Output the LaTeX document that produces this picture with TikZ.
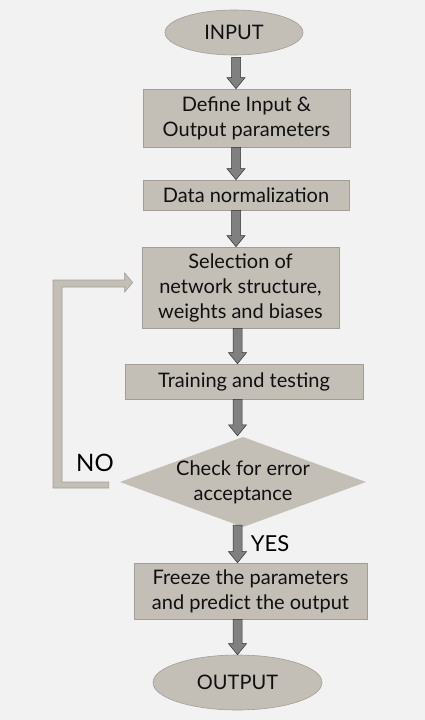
\documentclass[tikz,border=0pt]{standalone}
\usepackage{fontspec}
\setmainfont{Lato}
\usetikzlibrary{shapes.geometric,calc}
\definecolor{bg}{HTML}{F2F2F2}
\definecolor{boxgray}{HTML}{C3BEB6}
\definecolor{boxedge}{HTML}{A29D96}
\definecolor{arrowgray}{HTML}{808080}
\definecolor{txt}{HTML}{101010}
\begin{document}
\begin{tikzpicture}[x=1pt,y=-1pt,
  every node/.style={text=txt, align=center, inner sep=0pt},
  boxtxt/.style={font=\fontsize{20}{25}\selectfont},
  procbox/.style={rectangle, fill=boxgray, draw=boxedge, line width=0.6pt, boxtxt},
  termnode/.style={ellipse, fill=boxgray, draw=boxedge, line width=0.6pt, font=\fontsize{20}{24}\selectfont},
  blk/.style={fill=arrowgray, draw=black!80, line width=0.5pt,
    to path={let \p1=(\tikztostart), \p2=(\tikztotarget) in
      (\x1-4.5pt,\y1) -- (\x1-4.5pt,\y2+11pt) -- (\x1-9pt,\y2+11pt) -- (\x1,\y2)
      -- (\x1+9pt,\y2+11pt) -- (\x1+4.5pt,\y2+11pt) -- (\x1+4.5pt,\y1) -- cycle}},
  fb/.style={fill=boxgray, draw=boxedge, line width=0.6pt},
  lbl/.style={text=black}
]
\fill[bg] (0,0) rectangle (425,720);
\useasboundingbox (0,0) rectangle (425,720);

\node[termnode, minimum width=138pt, minimum height=45pt] (in) at (234,32.5) {INPUT};
\node[procbox, minimum width=207pt, minimum height=58pt] (b1) at (246.5,118) {Define Input \&\\Output parameters};
\node[procbox, minimum width=206pt, minimum height=30pt] (b2) at (246,195) {Data normalization};
\node[procbox, minimum width=197pt, minimum height=81pt] (b3) at (240.5,287.5) {Selection of\\network structure,\\weights and biases};
\node[procbox, minimum width=238pt, minimum height=35pt] (b4) at (244,381.5) {Training and testing};
\path[fill=boxgray] (120,482) -- (243,437) -- (366,482) -- (243,527) -- cycle;
\node[boxtxt, minimum width=246pt, minimum height=90pt] (d) at (243,482) {Check for error\\acceptance};
\node[procbox, minimum width=233pt, minimum height=56pt] (b5) at (250.5,591) {Freeze the parameters\\and predict the output};
\node[termnode, minimum width=169pt, minimum height=55pt] (out) at (237.5,682.5) {OUTPUT};

\coordinate (ax) at (236,0);
\coordinate (ay) at (237.5,0);
\draw[blk] ([yshift=-2pt]in.south -| ax) to (b1.north -| ax);
\draw[blk] (b1.south -| ax) to (b2.north -| ax);
\draw[blk] (b2.south -| ax) to (b3.north -| ax);
\draw[blk] (b3.south -| ay) to (b4.north -| ay);
\draw[blk] (b4.south -| ay) to ([yshift=1pt]d.north -| ay);
\draw[blk] ([yshift=2pt]d.south -| ay) to (b5.north -| ay);
\draw[blk] (b5.south -| ay) to (out.north -| ay);

% feedback loop (NO branch)
\draw[fb] let \p1=(d.west), \p2=(b3.west) in
  (\x1-11pt,\y1) -- (\x1-11pt,\y1-6pt) -- (53pt,\y1-6pt) -- (53pt,\y2+7.5pt)
  -- (\x2-17pt,\y2+7.5pt) -- (\x2-17pt,\y2+14.5pt) -- (\x2-9pt,\y2+5pt)
  -- (\x2-17pt,\y2-4.5pt) -- (\x2-17pt,\y2+0.5pt) -- (62pt,\y2+0.5pt)
  -- (62pt,\y1) -- cycle;

\node[lbl, font=\fontsize{24}{28}\selectfont] (no) at (95,462.5) {NO};
\node[lbl, font=\fontsize{22}{26}\selectfont] (yes) at (270,543.5) {YES};
\end{tikzpicture}
\end{document}
